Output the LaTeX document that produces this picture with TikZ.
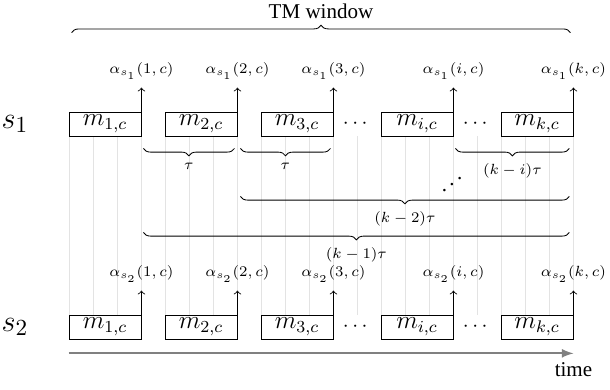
\documentclass[tikz,border=0pt]{standalone}
\usepackage[no-math]{fontspec}
\setmainfont{Liberation Serif}
\usepackage{amsmath}
\usetikzlibrary{calc,arrows,decorations.pathreplacing}
\tikzset{msgbox/.style={draw,minimum width=34.2pt,minimum height=11.4pt,inner sep=0pt,font=\large},
    gridline/.style={gray!22,line width=0.3pt},
    brcdown/.style={decorate,decoration={brace,mirror,amplitude=3.5pt}},
    brcup/.style={decorate,decoration={brace,amplitude=3.5pt}},
    brclbl/.style={midway,below=3.5pt,font=\scriptsize}}

\begin{document}
\begin{tikzpicture}[x=11.4pt,y=11.4pt,
        alphalbl/.style={above=0.5pt,font=\scriptsize}]
        \useasboundingbox (-2.875,0) rectangle (22.54,-16.21);

        % time slots
        \foreach \x in {0,...,21}
            \draw[gridline] (\x,-5.667) -- (\x,-13.125);

        % the two sensors
        \foreach \r/\yy in {1/-5.167,2/-13.625} {
            \node[font=\fontsize{15}{17}\selectfont] (s\r) at (-2.25,\yy) {$s_\r$};
            \foreach \l/\m in {0/1,4/2,8/3,13/i,18/k} {
                \node[msgbox] (m\r\m) at (\l+1.5,\yy) {$m_{\m,c}$};
                \coordinate (t\r\m) at ($(m\r\m.north east)+(0,1)$);
                \draw[->] (m\r\m.north east) -- (t\r\m);
                \node[alphalbl] (a\r\m) at (t\r\m) {$\alpha_{s_\r}(\m,c)$};
            }
            \node (d\r a) at (12,\yy) {$\cdots$};
            \node (d\r b) at (17,\yy) {$\cdots$};
        }

        % window
        \draw[brcup] ($(m11.north west)+(0.125,3.29)$) -- node[midway,above=3pt] (tm) {TM window}
            ($(m1k.north east)+(-0.125,3.29)$);

        % delays
        \draw[brcdown] ($(m11.south east)+(0.08,-0.5)$) -- node[brclbl] (tau1) {$\tau$}
            ($(m12.south east)+(-0.125,-0.5)$);
        \draw[brcdown] ($(m12.south east)+(0.125,-0.5)$) -- node[brclbl] (tau2) {$\tau$}
            ($(m13.south east)+(-0.125,-0.5)$);
        \draw[brcdown] ($(m1i.south east)+(0.08,-0.5)$) -- node[brclbl] (taui) {$(k-i)\tau$}
            ($(m1k.south east)+(-0.17,-0.5)$);
        \node (dd) at (15.96,-7.42) {\reflectbox{$\ddots$}};
        \draw[brcdown] ($(m12.south east)+(0.125,-2.5)$) -- node[brclbl] (tau2k) {$(k-2)\tau$}
            ($(m1k.south east)+(-0.17,-2.5)$);
        \draw[brcdown] ($(m11.south east)+(0.08,-4)$) -- node[brclbl] (tau1k) {$(k-1)\tau$}
            ($(m1k.south east)+(-0.17,-4)$);

        % time axis
        \coordinate (t0) at ($(m21.south west)+(0,-0.58)$);
        \coordinate (t1) at ($(m2k.south east)+(0,-0.58)$);
        \draw[->,>=latex,gray,line width=0.9pt] (t0) -- (t1);
        \node[below=1pt] (time) at (t1) {time};
\end{tikzpicture}
\end{document}
